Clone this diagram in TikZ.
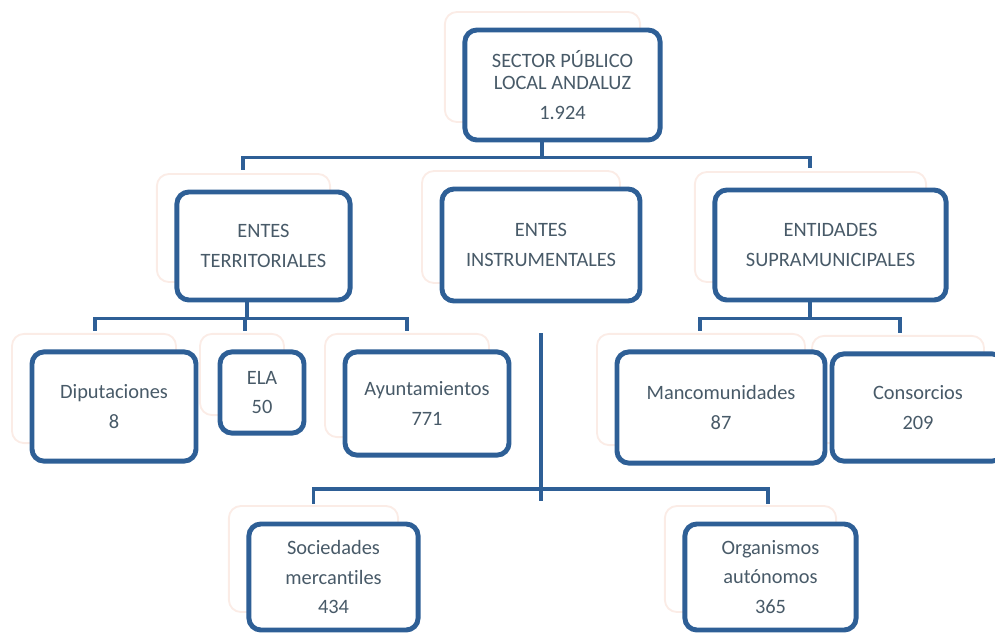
\documentclass[tikz,border=0pt]{standalone}
\usepackage{fontspec}
\setmainfont{Carlito}[Ligatures=NoCommon]
\usetikzlibrary{shadows}

\definecolor{boxblue}{RGB}{46,95,150}
\definecolor{textgray}{RGB}{72,90,104}
\definecolor{shadowpink}{RGB}{251,236,230}

\newcommand{\boxfont}{\fontsize{14.5}{21}\selectfont}

\tikzset{
    box/.style={draw=boxblue, line width=3.5pt, rounded corners=0.3cm, fill=white,
        text=textgray, align=center, font=\boxfont,
        copy shadow={shadow xshift=-0.5cm, shadow yshift=0.45cm, draw=shadowpink, fill=white, line width=1.3pt}},
    link/.style={draw=boxblue, line width=2.8pt}
}

\begin{document}
\begin{tikzpicture}[x=0.025cm, y=-0.025cm]
        \useasboundingbox (0,0) rectangle (995,633);

        % Draw the top box
        \node[box, minimum width=4.88cm, minimum height=2.75cm] (sector) at (562.5,85) {SECTOR PÚBLICO\\[-5pt]LOCAL ANDALUZ\\1.924};

        % Draw the second level
        \node[box, minimum width=4.33cm, minimum height=2.7cm] (terr) at (263.5,246) {ENTES\\TERRITORIALES};
        \node[box, minimum width=4.95cm, minimum height=2.8cm] (instr) at (541,245) {ENTES\\INSTRUMENTALES};
        \node[box, minimum width=5.78cm, minimum height=2.75cm] (supra) at (830.5,245) {ENTIDADES\\SUPRAMUNICIPALES};

        % Draw the third level
        \node[box, minimum width=4.1cm, minimum height=2.73cm] (dip) at (114,406.5) {Diputaciones\\8};
        \node[box, minimum width=2.1cm, minimum height=2.03cm] (ela) at (262,392.5) {ELA\\50};
        \node[box, minimum width=4.1cm, minimum height=2.58cm] (ayun) at (427,403.5) {Ayuntamientos\\771};
        \node[box, minimum width=4.3cm, minimum height=2.68cm] (cons) at (918,407.5) {Consorcios\\209};
        \node[box, minimum width=5.2cm, minimum height=2.78cm] (manc) at (721,407.5) {Mancomunidades\\87};

        % Draw the bottom level
        \node[box, minimum width=4.23cm, minimum height=2.65cm] (soc) at (333.5,577) {Sociedades\\mercantiles\\434};
        \node[box, minimum width=4.28cm, minimum height=2.65cm] (org) at (770.5,577) {Organismos\\autónomos\\365};

        % Connect the top box
        \draw[link] ([xshift=-0.52cm]sector.south) -- ++(0,15) -| ([xshift=-0.52cm,yshift=0.5cm]terr.north);
        \draw[link] ([xshift=-0.52cm]sector.south) -- ++(0,15) -| ([xshift=-0.52cm,yshift=0.5cm]supra.north);

        % Connect the territorial entities
        \draw[link] ([xshift=-0.42cm]terr.south) -- ++(0,16) -| ([xshift=-0.48cm,yshift=0.45cm]dip.north);
        \draw[link] ([xshift=-0.42cm]terr.south) -- ++(0,16) -| ([xshift=-0.42cm,yshift=0.45cm]ela.north);
        \draw[link] ([xshift=-0.42cm]terr.south) -- ++(0,16) -| ([xshift=-0.5cm,yshift=0.45cm]ayun.north);

        % Connect the supramunicipal entities
        \draw[link] ([xshift=-0.52cm]supra.south) -- ++(0,16) -| ([xshift=-0.52cm,yshift=0.45cm]manc.north);
        \draw[link] ([xshift=-0.52cm]supra.south) -- ++(0,16) -| ([xshift=-0.45cm,yshift=0.45cm]cons.north);

        % Connect the instrumental entities
        \draw[link] ([yshift=-0.75cm]instr.south) -- ++(0,168);
        \coordinate (instrbus) at (541,489);
        \draw[link] ([xshift=-0.5cm,yshift=0.45cm]soc.north) |- (instrbus) -| ([xshift=-0.06cm,yshift=0.45cm]org.north);

    \end{tikzpicture}
\end{document}
